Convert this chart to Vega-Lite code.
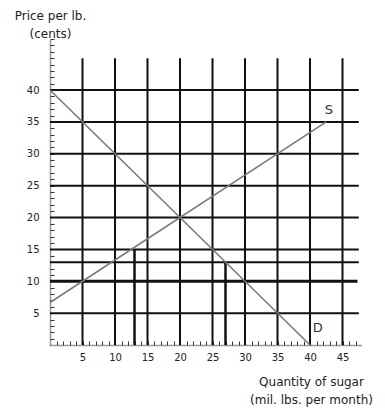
{
  "$schema": "https://vega.github.io/schema/vega-lite/v6.json",
  "autosize": "none",
  "width": 312,
  "height": 306,
  "padding": {"left": 50, "top": 39, "right": 23, "bottom": 71},
  "background": "white",
  "config": {
    "view": {"stroke": null},
    "font": "DejaVu Sans"
  },
  "datasets": {
    "vgrid": [
      {"q": 5, "p0": 0, "p1": 45}, {"q": 10, "p0": 0, "p1": 45}, {"q": 15, "p0": 0, "p1": 45},
      {"q": 20, "p0": 0, "p1": 45}, {"q": 25, "p0": 0, "p1": 45}, {"q": 30, "p0": 0, "p1": 45},
      {"q": 35, "p0": 0, "p1": 45}, {"q": 40, "p0": 0, "p1": 45}, {"q": 45, "p0": 0, "p1": 45}
    ],
    "hgrid": [
      {"p": 5, "q0": 0, "q1": 47.5}, {"p": 13, "q0": 0, "q1": 47.5}, {"p": 15, "q0": 0, "q1": 47.5},
      {"p": 20, "q0": 0, "q1": 47.5}, {"p": 25, "q0": 0, "q1": 47.5}, {"p": 30, "q0": 0, "q1": 47.5},
      {"p": 35, "q0": 0, "q1": 47.5}, {"p": 40, "q0": 0, "q1": 47.5}
    ],
    "hthick": [{"p": 10, "q0": 0, "q1": 47.3}],
    "vpartial": [{"q": 13, "p0": 0, "p1": 15}, {"q": 27, "p0": 0, "p1": 13}],
    "curves": [
      {"curve": "S", "q": 0, "p": 6.67}, {"curve": "S", "q": 42.5, "p": 35},
      {"curve": "D", "q": 0, "p": 40}, {"curve": "D", "q": 40, "p": 0}
    ],
    "labels": [
      {"text": "S", "q": 42.9, "p": 36.9},
      {"text": "D", "q": 41.2, "p": 2.6}
    ]
  },
  "layer": [
    {
      "data": {"name": "vgrid"},
      "mark": {"type": "rule", "color": "#111", "strokeWidth": 2},
      "encoding": {
        "x": {
          "field": "q", "type": "quantitative",
          "scale": {"domain": [0, 48], "nice": false, "zero": false},
          "axis": {
            "values": [1,2,3,4,5,6,7,8,9,10,11,12,13,14,15,16,17,18,19,20,21,22,23,24,25,26,27,28,29,30,31,32,33,34,35,36,37,38,39,40,41,42,43,44,45,46,47],
            "tickCount": 200,
            "format": "d",
            "labelExpr": "datum.value % 5 == 0 ? datum.label : ''",
            "labelOverlap": false,
            "labelBound": false,
            "labelFlush": false,
            "grid": false,
            "tickSize": -4,
            "tickWidth": 1,
            "tickColor": "#333",
            "domainColor": "#333",
            "domainWidth": 1.5,
            "domainDash": [1, 1],
            "labelPadding": 11,
            "labelFontSize": 10,
            "labelColor": "#222",
            "labelFont": "DejaVu Sans",
            "title": ["Quantity of sugar", "(mil. lbs. per month)"],
            "titleFontSize": 12,
            "titleFontWeight": "normal",
            "titleColor": "#222",
            "titleAlign": "center",
            "titleBaseline": "top",
            "titleLineHeight": 18,
            "titleX": 261,
            "titleY": 31
          }
        },
        "y": {
          "field": "p0", "type": "quantitative",
          "scale": {"domain": [0, 48], "nice": false, "zero": false},
          "axis": {
            "values": [1,2,3,4,5,6,7,8,9,10,11,12,13,14,15,16,17,18,19,20,21,22,23,24,25,26,27,28,29,30,31,32,33,34,35,36,37,38,39,40,41,42,43,44,45,46,47,48],
            "tickCount": 200,
            "format": "d",
            "labelExpr": "datum.value % 5 == 0 && datum.value < 45 ? datum.label : ''",
            "labelOverlap": false,
            "labelBound": false,
            "labelFlush": false,
            "grid": false,
            "tickSize": -4,
            "tickWidth": 1,
            "tickColor": "#333",
            "domainColor": "#333",
            "domainWidth": 1.5,
            "domainDash": [1, 1],
            "labelPadding": 15,
            "labelFontSize": 10,
            "labelColor": "#222",
            "labelFont": "DejaVu Sans",
            "title": ["Price per lb.", "(cents)"],
            "titleFontSize": 12,
            "titleFontWeight": "normal",
            "titleColor": "#222",
            "titleAngle": 0,
            "titleAlign": "center",
            "titleBaseline": "top",
            "titleLineHeight": 18,
            "titleX": 0,
            "titleY": -29
          }
        },
        "y2": {"field": "p1"}
      }
    },
    {
      "data": {"name": "vpartial"},
      "mark": {"type": "rule", "color": "#111", "strokeWidth": 2.5},
      "encoding": {
        "x": {"field": "q", "type": "quantitative"},
        "y": {"field": "p0", "type": "quantitative"},
        "y2": {"field": "p1"}
      }
    },
    {
      "data": {"name": "hgrid"},
      "mark": {"type": "rule", "color": "#111", "strokeWidth": 2},
      "encoding": {
        "y": {"field": "p", "type": "quantitative"},
        "x": {"field": "q0", "type": "quantitative"},
        "x2": {"field": "q1"}
      }
    },
    {
      "data": {"name": "hthick"},
      "mark": {"type": "rule", "color": "#111", "strokeWidth": 3},
      "encoding": {
        "y": {"field": "p", "type": "quantitative"},
        "x": {"field": "q0", "type": "quantitative"},
        "x2": {"field": "q1"}
      }
    },
    {
      "data": {"name": "curves"},
      "mark": {"type": "line", "color": "#7a7a7a", "strokeWidth": 1.6},
      "encoding": {
        "x": {"field": "q", "type": "quantitative"},
        "y": {"field": "p", "type": "quantitative"},
        "detail": {"field": "curve"}
      }
    },
    {
      "data": {"name": "labels"},
      "mark": {"type": "text", "fontSize": 13, "color": "#333", "font": "DejaVu Sans"},
      "encoding": {
        "x": {"field": "q", "type": "quantitative"},
        "y": {"field": "p", "type": "quantitative"},
        "text": {"field": "text"}
      }
    }
  ]
}
